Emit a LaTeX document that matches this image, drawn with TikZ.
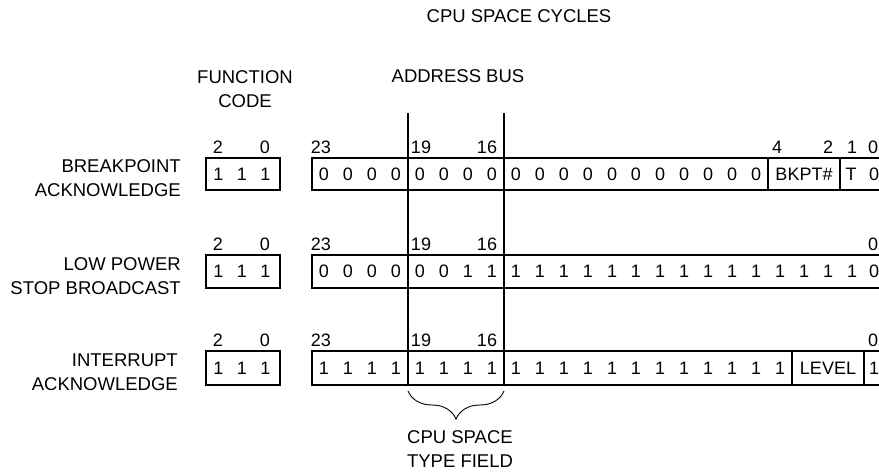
\documentclass[tikz,border=0pt]{standalone}
\usepackage{fontspec}
\setmainfont{Liberation Sans}
\usetikzlibrary{decorations.pathreplacing}

\tikzset{
	fieldbox/.style={line width=1.3pt},
	busline/.style={line width=1.4pt},
	bitnum/.style={font=\fontsize{18}{21}\selectfont, inner sep=0pt},
	bitval/.style={font=\fontsize{18}{21}\selectfont, inner sep=0pt},
	cyclename/.style={font=\fontsize{18.5}{24}\selectfont, align=right, anchor=east, inner sep=0pt},
	heading/.style={font=\fontsize{18.5}{24}\selectfont, align=center, inner sep=0pt},
}

\begin{document}
\begin{tikzpicture}[x=1pt, y=-1pt]

	\useasboundingbox (0,0) rectangle (879,472);

	% headings
	\node[heading] (title) at (519,16) {CPU SPACE CYCLES};
	\node[heading] (fchead) at (245,89) {FUNCTION\\CODE};
	\node[heading] (abhead) at (458,76) {ADDRESS BUS};

	% cycle names
	\node[cyclename] (bkname) at (181,178) {BREAKPOINT\\ACKNOWLEDGE};
	\node[cyclename] (lpname) at (181,276) {LOW POWER\\STOP BROADCAST};
	\node[cyclename] (ianame) at (178,372) {INTERRUPT\\ACKNOWLEDGE};

	% function code boxes
	\draw[fieldbox] (206,158) rectangle (280,190);
	\draw[fieldbox] (206,255) rectangle (280,288);
	\draw[fieldbox] (206,351) rectangle (280,385);

	% address boxes
	\draw[fieldbox] (312,158) rectangle (890,190);
	\draw[fieldbox] (312,255) rectangle (890,288);
	\draw[fieldbox] (312,351) rectangle (890,385);
	\draw[fieldbox] (768,158) -- (768,190);
	\draw[fieldbox] (840,158) -- (840,190);
	\draw[fieldbox] (792,351) -- (792,385);
	\draw[fieldbox] (864,351) -- (864,385);

	% type field lines
	\draw[busline] (408,113) -- (408,385);
	\draw[busline] (504,113) -- (504,385);

	% bit numbers
	\foreach \r/\y in {bk/147, lp/244, ia/340} {
		\node[bitnum] (\r-fc2) at (218,\y) {2};
		\node[bitnum] (\r-fc0) at (265,\y) {0};
		\node[bitnum] (\r-a23) at (321,\y) {23};
		\node[bitnum] (\r-a19) at (421,\y) {19};
		\node[bitnum] (\r-a16) at (487,\y) {16};
	}
	\node[bitnum] (bk-a4) at (777,147) {4};
	\node[bitnum] (bk-a2) at (828,147) {2};
	\node[bitnum] (bk-a1) at (852,147) {1};
	\node[bitnum] (bk-a0) at (873,147) {0};
	\node[bitnum] (lp-a0) at (873,244) {0};
	\node[bitnum] (ia-a0) at (873,340) {0};

	% function code values
	\foreach \r/\y in {bk/174, lp/271.5, ia/368} {
		\node[bitval] (\r-v2) at (218.5,\y) {1};
		\node[bitval] (\r-v1) at (242,\y) {1};
		\node[bitval] (\r-v0) at (265.5,\y) {1};
	}

	% breakpoint acknowledge
	\foreach \b in {23,...,5}
		\node[bitval] (bk-b\b) at ({876-24*\b},174) {0};
	\node[bitval] (bkpt) at (804,174) {BKPT\#};
	\node[bitval] (bk-t) at (851,174) {T};
	\node[bitval] (bk-b0) at (874,174) {0};

	% low power stop broadcast
	\foreach \b in {23,...,18}
		\node[bitval] (lp-b\b) at ({876-24*\b},271.5) {0};
	\foreach \b in {17,...,1}
		\node[bitval] (lp-b\b) at ({876-24*\b},271.5) {1};
	\node[bitval] (lp-b0) at (874,271.5) {0};

	% interrupt acknowledge
	\foreach \b in {23,...,4}
		\node[bitval] (ia-b\b) at ({876-24*\b},368) {1};
	\node[bitval] (level) at (828,368) {LEVEL};
	\node[bitval] (ia-b0) at (874,368) {1};

	% cpu space type field
	\draw[line width=0.9pt, decorate, decoration={brace, mirror, amplitude=28pt, aspect=0.5}] (408,391) -- (504,391);
	\node[heading] (typefield) at (460,449) {CPU SPACE\\TYPE FIELD};
\end{tikzpicture}
\end{document}
